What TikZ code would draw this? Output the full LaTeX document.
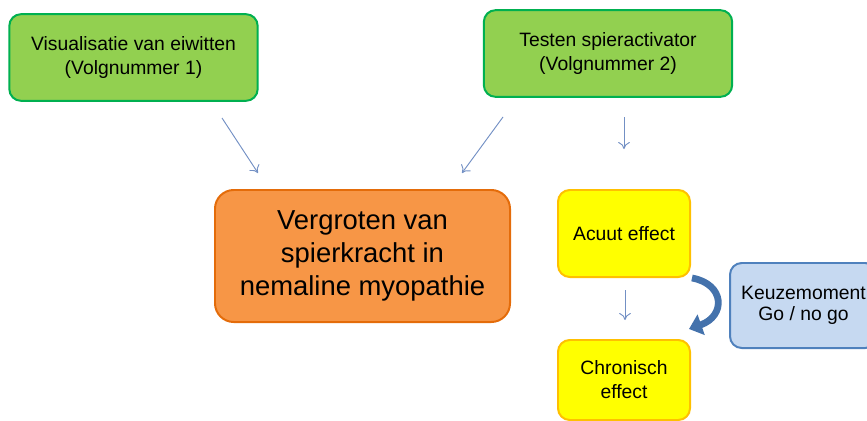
\documentclass[tikz,border=0pt]{standalone}
\usepackage{fontspec}
\setmainfont{Liberation Sans}
\usetikzlibrary{positioning,arrows.meta}
\definecolor{greenF}{HTML}{92D050}
\definecolor{greenD}{HTML}{00B050}
\definecolor{orangeF}{HTML}{F79646}
\definecolor{orangeD}{HTML}{E46C0A}
\definecolor{yellowF}{HTML}{FFFF00}
\definecolor{yellowD}{HTML}{FFC000}
\definecolor{blueF}{HTML}{C6D9F1}
\definecolor{blueD}{HTML}{4F81BD}
\definecolor{arrowC}{HTML}{7390C4}
\definecolor{bendC}{HTML}{4472AC}

\begin{document}
\begin{tikzpicture}
  [x=0.03cm,y=-0.03cm,
   taskN/.style={draw=greenD,fill=greenF,rounded corners=10pt,line width=1.7pt,
                 minimum width=7.45cm,minimum height=2.6cm,align=center,
                 font=\fontsize{16.5}{20.5}\selectfont},
   goalN/.style={draw=orangeD,fill=orangeF,rounded corners=16pt,line width=1.7pt,
                 minimum width=8.85cm,minimum height=3.96cm,align=center,
                 font=\fontsize{23.4}{28}\selectfont},
   effectN/.style={draw=yellowD,fill=yellowF,rounded corners=10pt,line width=1.7pt,
                   minimum width=3.96cm,minimum height=2.61cm,align=center,
                   font=\fontsize{16.5}{20.5}\selectfont},
   choiceN/.style={draw=blueD,fill=blueF,rounded corners=10pt,line width=1.7pt,
                   minimum width=4.41cm,minimum height=2.55cm,align=center,
                   font=\fontsize{16.5}{18.5}\selectfont},
   thinA/.style={draw=arrowC,line width=0.8pt,-{To[length=6pt,width=10pt]}},
   node distance=1.83cm]

  \useasboundingbox (0,0) rectangle (867,421);

  \node[taskN]   (visual)  at (133.5,57.5) {Visualisatie van eiwitten\\(Volgnummer 1)};
  \node[taskN]   (testen)  at (608,53.5)   {Testen spieractivator\\(Volgnummer 2)};
  \node[goalN]   (kracht)  at (362.5,256)  {Vergroten van\\spierkracht in\\nemaline myopathie};
  \node[effectN] (acuut)   at (624,233.5)  {Acuut effect};
  \node[effectN,minimum height=2.4cm] (chron) [below=of acuut] {Chronisch\\effect};
  \node[choiceN] (keuze)   at (803.5,305.5) {Keuzemoment\\Go / no go};

  \coordinate (visualT) at (222,118);
  \coordinate (krachtL) at (258,173);
  \coordinate (testenT) at (503,117);
  \coordinate (krachtR) at (462,173);
  \coordinate (testenB) at (624,117);
  \coordinate (acuutT)  at (624,149);
  \coordinate (acuutB)  at (625,290);
  \coordinate (chronT)  at (625,320);
  \coordinate (bendS)   at (692,278);
  \coordinate (bendE)   at (689,329);

  \draw[thinA] (visualT) -- (krachtL);
  \draw[thinA] (testenT) -- (krachtR);
  \draw[thinA] (testenB) -- (acuutT);
  \draw[thinA] (acuutB)  -- (chronT);

  % keuze bocht
  \draw[bendC,line width=5.8pt,-{Triangle[length=11pt,width=18pt]}]
    (bendS) .. controls (725,284) and (726,316) .. (bendE);
\end{tikzpicture}
\end{document}
